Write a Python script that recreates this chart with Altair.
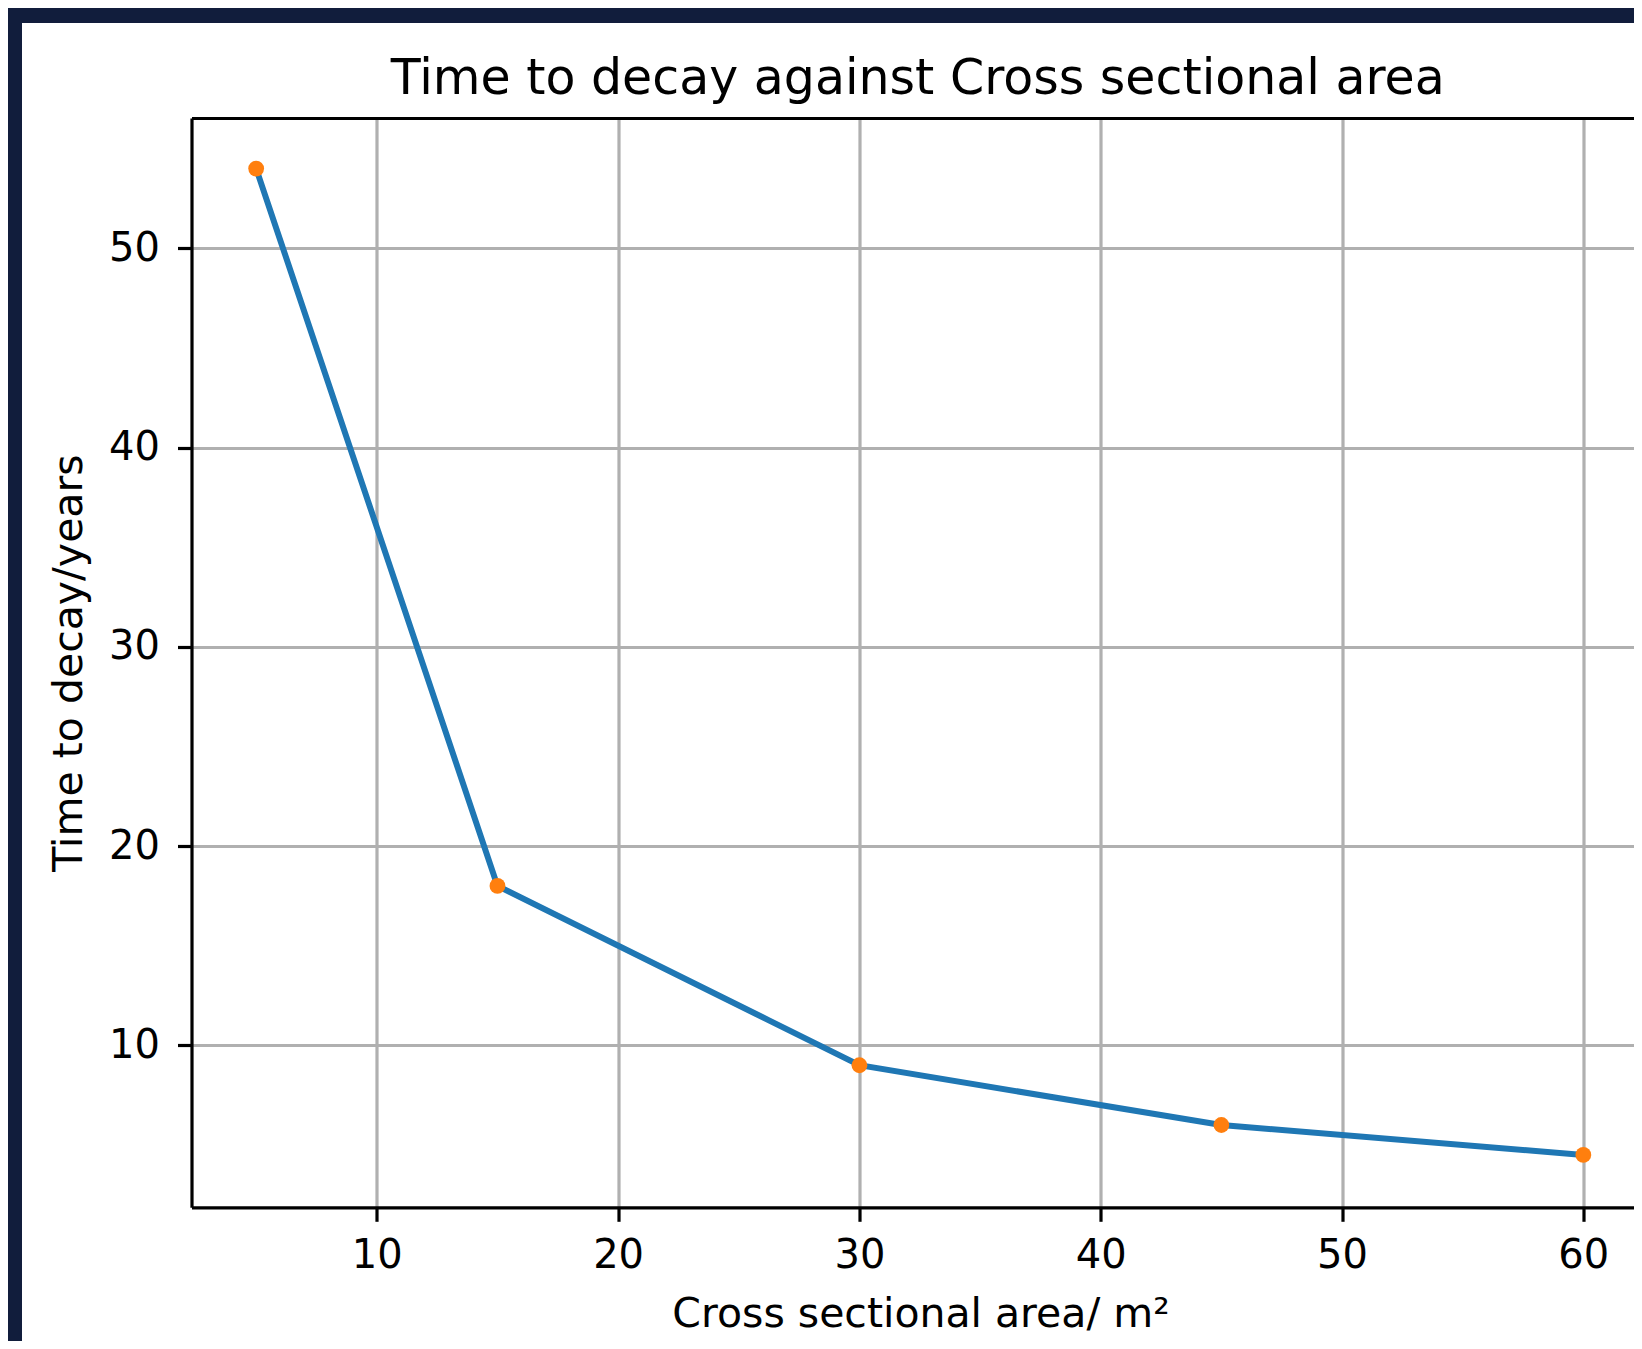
import altair as alt
import pandas as pd

# Data
area = [5, 15, 30, 45, 60]
time_years = [54, 18, 9, 6, 4.5]
x_ticks = [10, 20, 30, 40, 50, 60]
y_ticks = [10, 20, 30, 40, 50]

df = pd.DataFrame({"area": area, "time": time_years})
one = pd.DataFrame({"k": [0]})

FONT = "DejaVu Sans"
NAVY = "#111d3c"

x_scale = alt.Scale(domain=[2.32, 62.10], nice=False, zero=False)
y_scale = alt.Scale(domain=[1.87, 56.54], nice=False, zero=False)

x_axis = alt.Axis(
    orient="bottom",
    values=x_ticks, title="Cross sectional area/ m²", grid=True,
    gridColor="#b0b0b0", gridWidth=3.2, domainColor="black", domainWidth=3.2,
    tickColor="black", tickWidth=3.2, tickSize=14, labelFont=FONT, labelFontSize=40,
    labelColor="black", labelBaseline="alphabetic", labelPadding=46, labelFlush=False,
    titleFont=FONT, titleFontSize=41, titleFontWeight="normal", titleColor="black",
    titleBaseline="alphabetic", titleX=729, titleY=119.4, titleAnchor="middle", titleAlign="center",
)
y_axis = alt.Axis(
    orient="left",
    values=y_ticks, title="Time to decay/years", grid=True,
    gridColor="#b0b0b0", gridWidth=3.2, domainColor="black", domainWidth=3.2,
    tickColor="black", tickWidth=3.2, tickSize=14, labelFont=FONT, labelFontSize=40,
    labelColor="black", labelPadding=18, labelFlush=False,
    titleFont=FONT, titleFontSize=41, titleFontWeight="normal", titleColor="black",
    titleBaseline="alphabetic", titleX=-110.5, titleY=544.5, titleAngle=270, titleAlign="center",
)
top_axis = alt.Axis(orient="top", values=x_ticks, labels=False, ticks=False, grid=False,
                    domainColor="black", domainWidth=3.2, title=None)

navy_top = alt.Chart(one).mark_rect(color=NAVY).encode(
    x=alt.value(-183.5), x2=alt.value(1500), y=alt.value(-110), y2=alt.value(-95))
navy_left = alt.Chart(one).mark_rect(color=NAVY).encode(
    x=alt.value(-183.5), x2=alt.value(-169.5), y=alt.value(-110), y2=alt.value(1300))

base = alt.Chart(df)
line = base.mark_line(color="#1f77b4", strokeWidth=6).encode(
    x=alt.X("area:Q", scale=x_scale, axis=x_axis),
    y=alt.Y("time:Q", scale=y_scale, axis=y_axis),
)
pts = base.mark_point(filled=True, color="#ff7f0e", size=250, opacity=1).encode(
    x=alt.X("area:Q", scale=x_scale, axis=None),
    y=alt.Y("time:Q", scale=y_scale, axis=y_axis),
)
topframe = base.mark_point(opacity=0).encode(
    x=alt.X("area:Q", scale=x_scale, axis=top_axis),
    y=alt.Y("time:Q", scale=y_scale, axis=y_axis),
)

chart = alt.layer(navy_top, navy_left, line, pts, topframe).resolve_axis(
    x="independent"
).properties(
    width=1442.5,
    height=1089.3,
    background="white",
    padding={"left": 183.5, "top": 110, "right": 0, "bottom": 133.7},
    autosize=alt.AutoSizeParams(type="none"),
    title=alt.TitleParams(
        "Time to decay against Cross sectional area", font=FONT, fontSize=49,
        fontWeight="normal", color="black", anchor="middle", frame="group",
        baseline="alphabetic", offset=-135, dx=5,
    ),
).configure_view(stroke=None)

chart.save("out.html", embed_options={"renderer": "svg", "actions": False})
